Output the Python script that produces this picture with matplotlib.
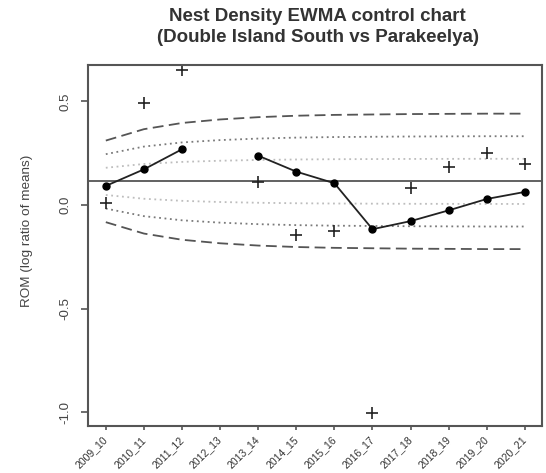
import numpy as np
import matplotlib
matplotlib.use("Agg")
import matplotlib.pyplot as plt

plt.rcParams['font.family'] = ['Liberation Sans', 'DejaVu Sans']

# seasons on the x axis
seasons = ['2009_10', '2010_11', '2011_12', '2012_13', '2013_14', '2014_15',
           '2015_16', '2016_17', '2017_18', '2018_19', '2019_20', '2020_21']

# raw ROM per season (nan = no survey)
rom = [0.008, 0.491, 0.652, np.nan, 0.110, -0.145,
       -0.124, -1.006, 0.084, 0.185, 0.250, 0.198]

# EWMA statistic
ewma = [0.092, 0.172, 0.269, np.nan, 0.238, 0.161,
        0.105, -0.117, -0.078, -0.026, 0.029, 0.063]

# centre line and 3-sigma half widths of the control limits
center = 0.114
limit_width = [0.197, 0.252, 0.282, 0.299, 0.310, 0.317,
               0.321, 0.323, 0.325, 0.326, 0.327, 0.327]

x = np.arange(len(seasons))
rom = np.array(rom)
ewma = np.array(ewma)
lw3 = np.array(limit_width)

fig = plt.figure(figsize=(5.46, 4.73), dpi=100)
ax = fig.add_axes([0.161, 0.1004, 0.831, 0.7622])

# sigma zones: 1 (light dotted), 2 (dotted), 3 (dashed)
for k, ls, col in [(1, (0, (1, 2)), '#bdbdbd'),
                   (2, (0, (1, 2)), '#7a7a7a'),
                   (3, (0, (6, 3)), '#555555')]:
    ax.plot(x, center + lw3 * k / 3, ls=ls, color=col, lw=1.3)
    ax.plot(x, center - lw3 * k / 3, ls=ls, color=col, lw=1.3)

ax.axhline(center, color='#555555', lw=1.3)

# EWMA line and points (gap where the season is missing)
ax.plot(x, ewma, color='#222222', lw=1.3, marker='o', ms=5, mfc='black', mec='black')
ax.plot(x, rom, ls='none', marker='+', ms=9, mew=1.2, color='#222222')

ax.set_xlim(-0.47, 11.44)
ax.set_ylim(-1.065, 0.676)

ax.set_xticks(x)
ax.set_xticklabels(seasons, rotation=45, ha='right', va='center',
                   rotation_mode='anchor', fontsize=7.5, color='#333333')
ax.set_yticks([-1.0, -0.5, 0.0, 0.5])
ax.set_yticklabels(['-1.0', '-0.5', '0.0', '0.5'], rotation=90, va='center',
                   fontsize=9.5, color='#444444')
ax.tick_params(axis='both', direction='out', length=5, width=1.2, color='#555555')
ax.tick_params(axis='y', pad=7)
ax.tick_params(axis='x', length=3, pad=6)

for sp in ax.spines.values():
    sp.set_color('#555555')
    sp.set_linewidth(1.5)

ax.set_ylabel('ROM (log ratio of means)', fontsize=9.7, color='#444444')
ax.yaxis.set_label_coords(-0.121, 0.54)

fig.text(0.582, 1 - 27 / 473, 'Nest Density EWMA control chart\n(Double Island South vs Parakeelya)',
         ha='center', va='center', fontsize=13.5, fontweight='bold', color='#333333',
         linespacing=1.3)

fig.savefig('out.png', dpi=100)
